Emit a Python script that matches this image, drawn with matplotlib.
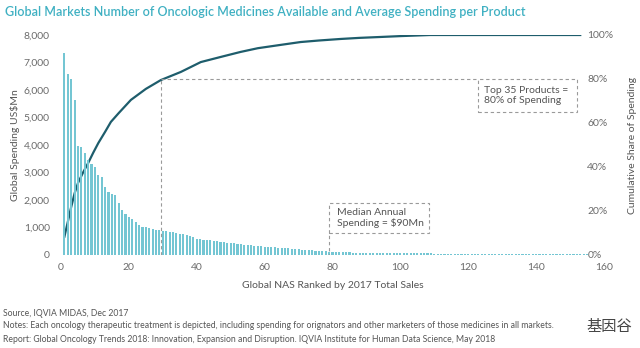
import matplotlib
matplotlib.use("Agg")
import matplotlib.pyplot as plt
from matplotlib.patches import Rectangle
import numpy as np

plt.rcParams['font.family'] = ['Lato', 'DejaVu Sans']

title = "Global Markets Number of Oncologic Medicines Available and Average Spending per Product"

spending = [
    7360, 6600, 6390, 5640, 3960, 3940, 3700, 3450, 3300, 3210,
    2900, 2820, 2480, 2300, 2230, 2200, 1880, 1640, 1500, 1380,
    1300, 1200, 1090, 1030, 1010, 970, 950, 910, 900, 890,
    870, 850, 830, 800, 770, 750, 720, 680, 640, 600,
    580, 560, 545, 530, 510, 495, 480, 470, 450, 435,
    420, 405, 395, 375, 360, 350, 340, 330, 320, 305,
    300, 290, 280, 270, 260, 250, 245, 230, 220, 210,
    200, 190, 180, 170, 160, 150, 140, 130, 120, 110,
    105, 100, 100, 95, 95, 90, 90, 90, 85, 85,
    85, 80, 80, 80, 75, 75, 75, 70, 70, 70,
    65, 65, 65, 60, 60, 60, 58, 56, 55, 54,
    52, 50, 50, 48, 48, 46, 45, 45, 44, 42,
    42, 40, 40, 40, 38, 38, 38, 36, 36, 35,
    35, 35, 34, 34, 33, 33, 32, 32, 32, 31,
    31, 30, 30, 30, 30, 30, 29, 29, 28, 28,
    28, 28, 27, 27, 27,
]
ranks = np.arange(1, len(spending) + 1)

cum_rank = [1, 2, 3, 4, 5, 6.5, 8, 9.5, 11, 13, 14.7, 17, 20.6, 25, 29.4, 35.3, 41.2,
            47, 52.9, 58, 64.7, 70.6, 76, 82.4, 88, 94.1, 100, 108.8, 153]
cum_share = [0.083, 0.15, 0.218, 0.28, 0.327, 0.375, 0.418, 0.465, 0.509, 0.56, 0.605,
             0.645, 0.705, 0.755, 0.795, 0.832, 0.877, 0.90, 0.923, 0.94, 0.955, 0.968,
             0.975, 0.982, 0.987, 0.991, 0.995, 1.0, 1.0]

left_ticks = [0, 1000, 2000, 3000, 4000, 5000, 6000, 7000, 8000]
right_ticks = [0, 0.2, 0.4, 0.6, 0.8, 1.0]
x_ticks = [0, 20, 40, 60, 80, 100, 120, 140, 160]

top_rank, top_share = 29.5, 0.80
median_rank = 79

bar_color = '#74c6d3'
line_color = '#1e5d6c'
tick_color = '#6b6b6b'
dash_color = '#9a9a9a'

fig = plt.figure(figsize=(6.4, 3.48), dpi=100)
ax = fig.add_axes([61/640, 93/348, 543/640, 220/348])
ax2 = ax.twinx()

# line (share) on ax, below bars
ax.plot(cum_rank, cum_share, color=line_color, lw=1.6, zorder=1, solid_joinstyle='round')
ax.set_ylim(0, 1.0)
ax.set_xlim(0, 160)
ax.yaxis.tick_right()
ax.yaxis.set_label_position('right')
ax.set_yticks(right_ticks)
ax.set_yticklabels([f"{int(t*100)}%" for t in right_ticks])
ax.tick_params(axis='y', length=0, pad=-12, labelsize=7.5, colors=tick_color)
ax.set_ylabel("Cumulative Share of Spending", fontsize=7.5, color='#555555')
ax.yaxis.set_label_coords(1.045, 0.5)
ax.set_xticks(x_ticks)
ax.tick_params(axis='x', length=0, pad=6, labelsize=7.5, colors=tick_color)
ax.set_xlabel("Global NAS Ranked by 2017 Total Sales", fontsize=7.5, color='#555555', labelpad=6)

# bars on ax2 (drawn over the line)
ax2.bar(ranks, spending, width=0.62, color=bar_color, edgecolor='none', zorder=2)
ax2.set_ylim(0, 8000)
ax2.yaxis.tick_left()
ax2.yaxis.set_label_position('left')
ax2.set_yticks(left_ticks)
ax2.set_yticklabels([f"{t:,}" for t in left_ticks])
ax2.tick_params(axis='y', length=0, pad=8, labelsize=7.5, colors=tick_color)
ax2.set_ylabel("Global Spending US$Mn", fontsize=7.5, color='#555555')
ax2.yaxis.set_label_coords(-0.075, 0.5)

for a in (ax, ax2):
    for s in a.spines.values():
        s.set_visible(False)

# annotations (drawn on top)
dash = dict(color=dash_color, lw=0.8, ls=(0, (3, 2.5)), transform=ax.transData, zorder=5)
ax2.plot([top_rank, top_rank], [0, top_share], **dash)
ax2.plot([top_rank, 123], [top_share, top_share], **dash)
ax2.add_patch(Rectangle((123, 0.65), 29, 0.15, fill=False, ec=dash_color, lw=0.8,
                        ls=(0, (3, 2.5)), transform=ax.transData, zorder=5))
ax2.text(124.6, 0.727, "Top 35 Products =\n80% of Spending", transform=ax.transData,
         fontsize=7.5, color='#555555', va='center', ha='left', linespacing=1.15, zorder=6)

ax2.plot([median_rank, median_rank], [-0.01, 0.10], **dash)
ax2.add_patch(Rectangle((median_rank, 0.10), 29.5, 0.136, fill=False, ec=dash_color, lw=0.8,
                        ls=(0, (3, 2.5)), transform=ax.transData, zorder=5))
ax2.text(median_rank + 2.2, 0.168, "Median Annual\nSpending = $90Mn", transform=ax.transData,
         fontsize=7.5, color='#555555', va='center', ha='left', linespacing=1.15, zorder=6)

fig.text(5/640, 1 - 12/348, title, fontsize=9.0, color='#3fb0c2', fontweight='semibold',
         va='center', ha='left')

foot = dict(fontsize=6.25, color='#555555', va='center', ha='left')
fig.text(3/640, 1 - 313/348, "Source, IQVIA MIDAS, Dec 2017", **foot)
fig.text(3/640, 1 - 326/348, "Notes: Each oncology therapeutic treatment is depicted, including spending for orignators and other marketers of those medicines in all markets.", **foot)
fig.text(3/640, 1 - 339/348, "Report: Global Oncology Trends 2018: Innovation, Expansion and Disruption. IQVIA Institute for Human Data Science, May 2018", **foot)
fig.text(586/640, 1 - 327/348, "基因谷", fontsize=11, color='#444444', va='center', ha='left',
         family=['Noto Sans CJK SC', 'DejaVu Sans'])

fig.savefig("out.png", dpi=100)
